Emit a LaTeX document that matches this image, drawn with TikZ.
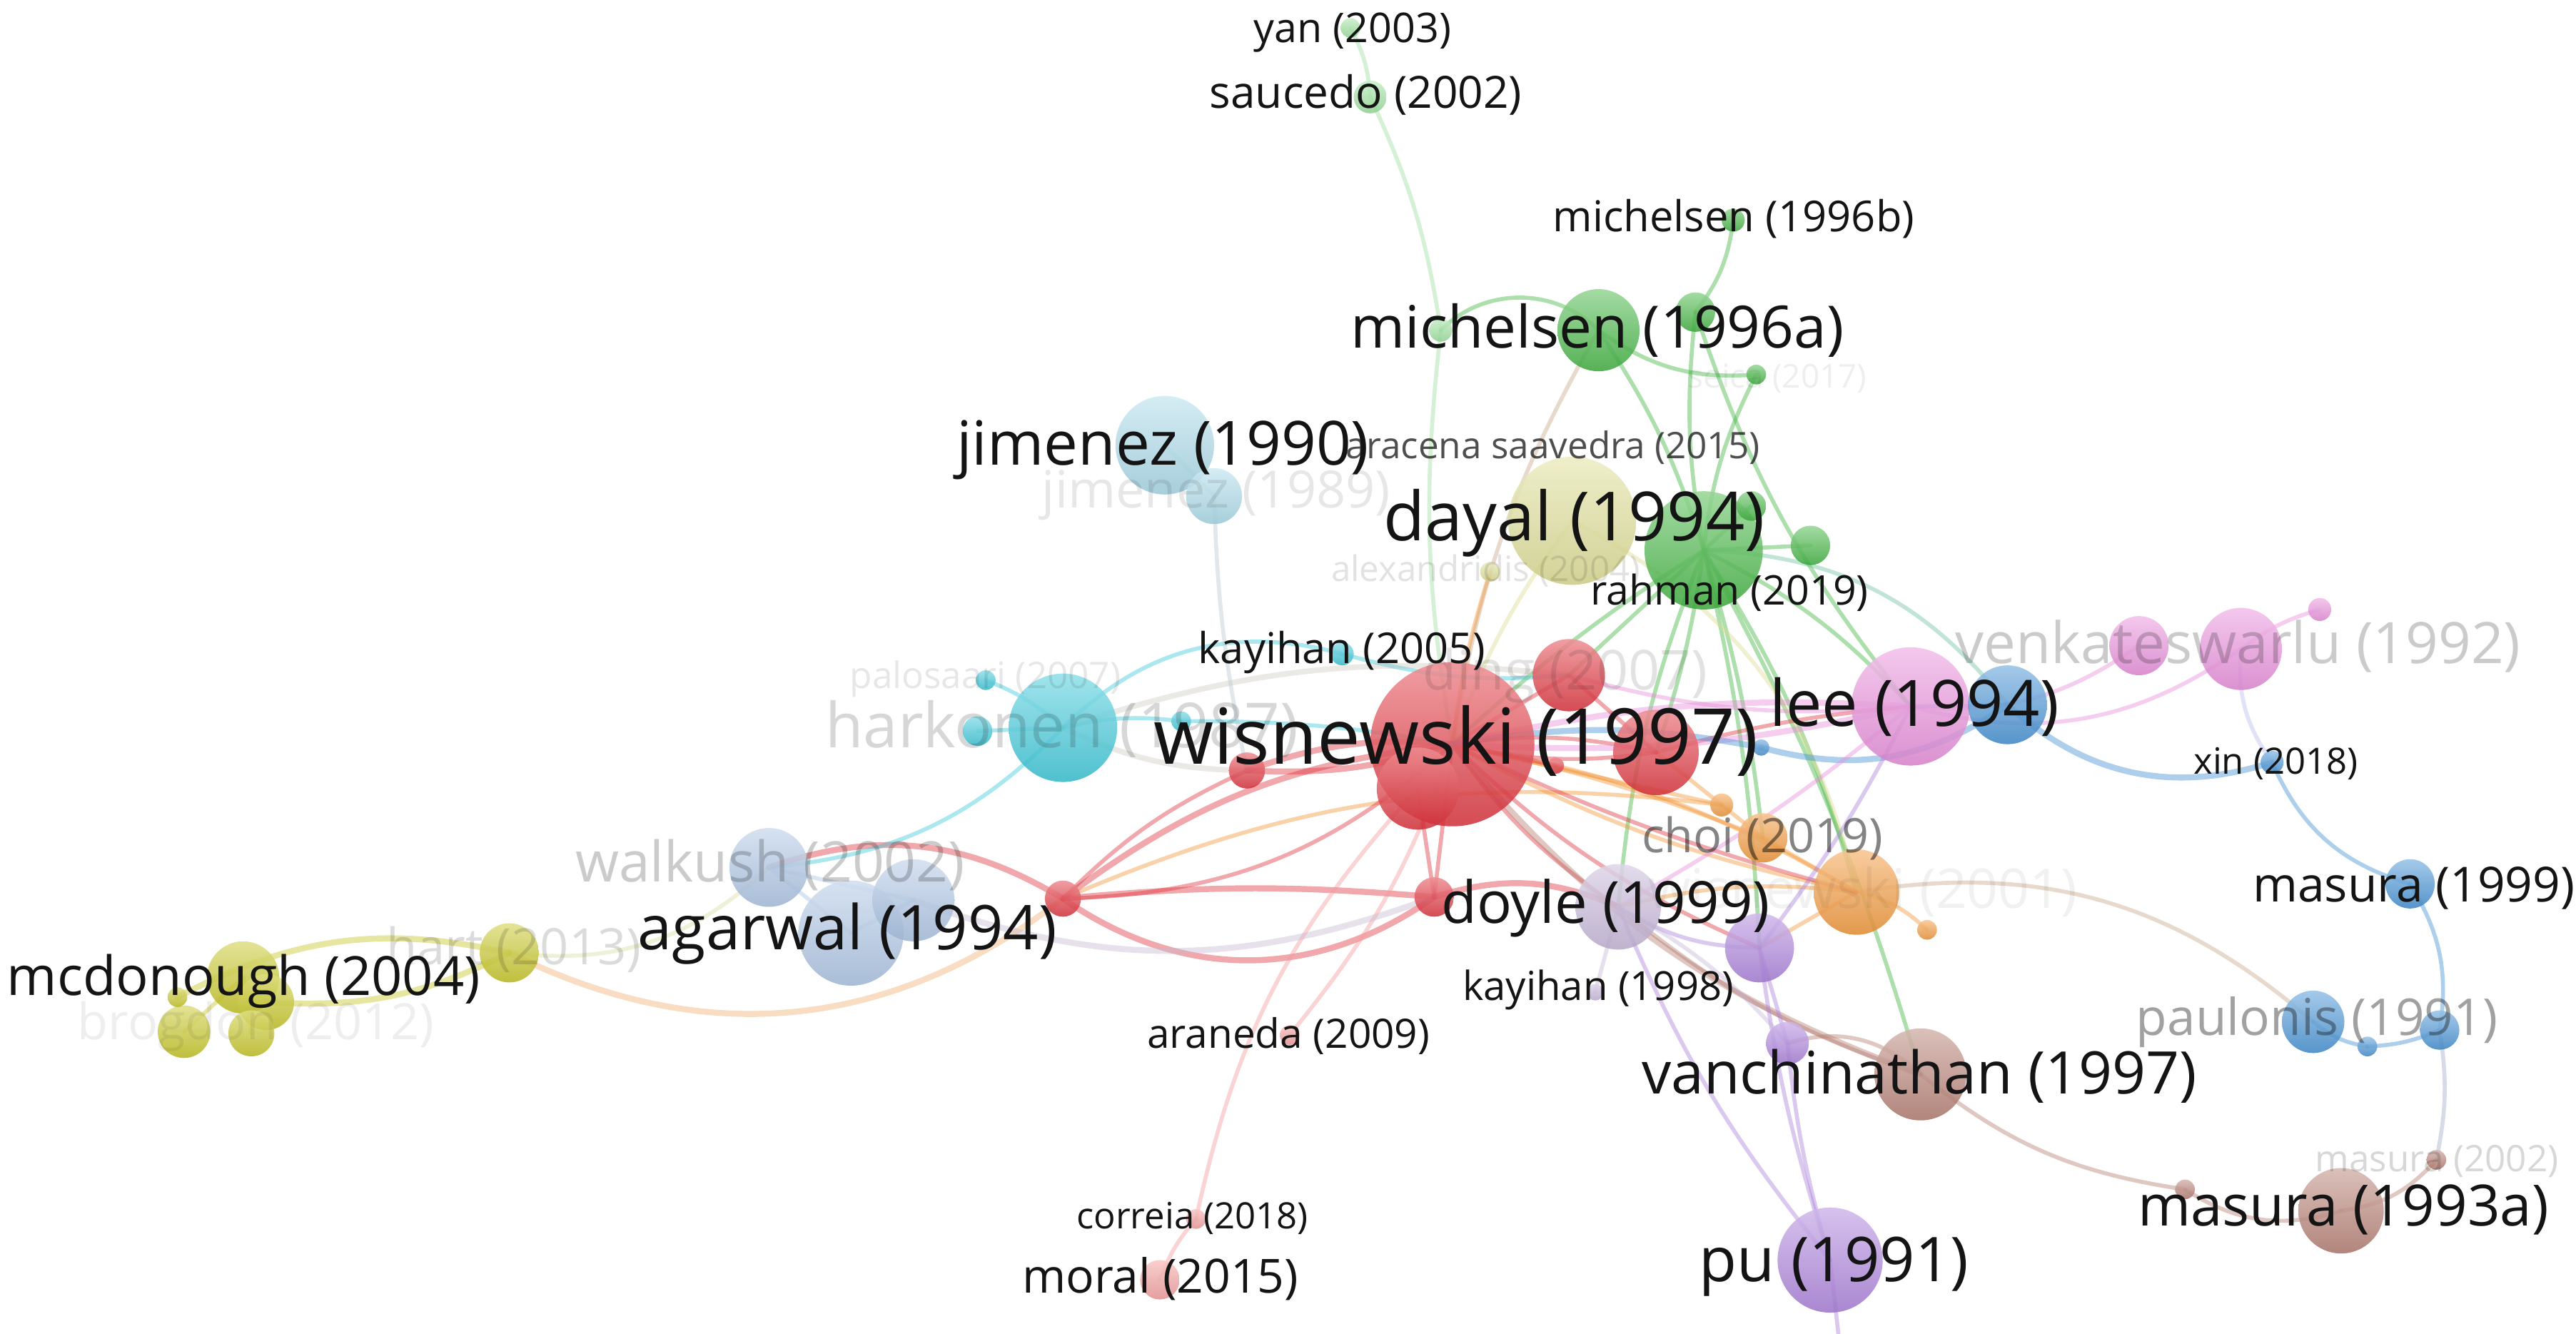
\documentclass[tikz,border=0pt]{standalone}
\usepackage{fontspec}
\setmainfont{Open Sans}
\usepackage{graphicx}
\newlength\pxu
\setlength\pxu{0.23017mm}
\pgfdeclarelayer{bg}
\pgfsetlayers{bg,main}
\definecolor{cred}{HTML}{E0303A}
\definecolor{cpl}{HTML}{F49A9A}
\definecolor{corange}{HTML}{F29433}
\definecolor{cpeach}{HTML}{F2B070}
\definecolor{ctan}{HTML}{C8A888}
\definecolor{cpurple}{HTML}{A97DDB}
\definecolor{clav}{HTML}{C4B4D8}
\definecolor{clav2}{HTML}{B8B8F0}
\definecolor{cbrown}{HTML}{B37A6E}
\definecolor{cblue}{HTML}{3F8ED3}
\definecolor{cbrownblue}{HTML}{A0A8C8}
\definecolor{cpink}{HTML}{E88ADA}
\definecolor{cgreen}{HTML}{3DB33D}
\definecolor{cgl}{HTML}{9BE09B}
\definecolor{cteal}{HTML}{6CC0A0}
\definecolor{ckhaki}{HTML}{DCDC90}
\definecolor{ccyan}{HTML}{35C6D8}
\definecolor{clblue}{HTML}{A6D8E8}
\definecolor{csteel}{HTML}{A9C2E3}
\definecolor{colive}{HTML}{C4C41E}
\definecolor{cyg}{HTML}{D8E0A0}
\definecolor{cgrey}{HTML}{B8B0A8}
\definecolor{cgreyblue}{HTML}{B8C8D0}
\definecolor{clilac}{HTML}{C8B8D0}
\definecolor{cdark}{HTML}{141414}
\tikzset{
  bubble/.style={circle, inner sep=0pt, draw=none, fill opacity=0.85,
    top color=#1!55!white, bottom color=#1!92!black},
  lbl/.style={anchor=base west, inner sep=0pt, text=cdark},
  ed/.style={draw=#1, draw opacity=0.42, line width=1.6pt, line cap=round},
  edk/.style={draw=#1, draw opacity=0.42, line width=2.4pt, line cap=round},
  edf/.style={draw=#1, draw opacity=0.28, line width=2.2pt, line cap=round},
}
\newcommand\bub[5]{\node[bubble=#5, minimum size={2*#4*0.23017mm}] (#1) at (#2,-#3) {};}
\newcommand\lab[6]{\node[lbl, text opacity=#5] (#1) at (#2,-#3) {\resizebox{#4\pxu}{!}{#6}};}
\begin{document}
\begin{tikzpicture}[x=0.23017mm, y=0.23017mm]
\useasboundingbox (0,-812) rectangle (1568,0);
% ---------- bubbles ----------
% olive
\bub{mc1}{148}{595}{22}{colive}
\bub{mc2}{162}{610}{17}{colive}
\bub{mc3}{153}{629}{14}{colive}
\bub{mc4}{112}{628}{16}{colive}
\bub{mc5}{108}{607}{6}{colive}
\bub{hart}{310}{580}{18}{colive}
% steel
\bub{walk}{468}{528}{24}{csteel}
\bub{agar}{518}{568}{32}{csteel}
\bub{s3}{556}{548}{25}{csteel}
% cyan
\bub{hark}{647}{443}{33}{ccyan}
\bub{c2}{600}{414}{6}{ccyan}
\bub{c3}{595}{445}{9}{ccyan}
\bub{kay05}{817}{398}{7}{ccyan}
\bub{c5}{719}{439}{6}{ccyan}
% light blue
\bub{jim90}{709}{271}{30}{clblue}
\bub{jim89}{739}{302}{17}{clblue}
% green
\bub{yan}{822}{17}{6}{cgl}
\bub{sauc}{834}{59}{10}{cgl}
\bub{g9}{877}{201}{7}{cgl}
\bub{michb}{1055}{134}{7}{cgreen}
\bub{mich}{973}{201}{25}{cgreen}
\bub{g4}{1032}{190}{12}{cgreen}
\bub{seica}{1069}{228}{6}{cgreen}
\bub{g2}{1037}{335}{36}{cgreen}
\bub{g10}{1066}{308}{9}{cgreen}
\bub{g3}{1102}{332}{12}{cgreen}
% khaki
\bub{dayal}{957}{317}{39}{ckhaki}
\bub{alex}{907}{348}{6}{ckhaki}
% pink
\bub{lee}{1163}{430}{36}{cpink}
\bub{k2}{1302}{393}{18}{cpink}
\bub{venk}{1364}{395}{25}{cpink}
\bub{k4}{1412}{371}{7}{cpink}
% blue
\bub{b1}{1222}{429}{24}{cblue}
\bub{b2}{1072}{455}{5}{cblue}
\bub{xin}{1383}{464}{7}{cblue}
\bub{mas99}{1467}{538}{15}{cblue}
\bub{paul}{1408}{622}{19}{cblue}
\bub{b6}{1485}{627}{12}{cblue}
\bub{b7}{1441}{637}{6}{cblue}
% brown
\bub{vanch}{1169}{654}{28}{cbrown}
\bub{mas93}{1425}{737}{26}{cbrown}
\bub{mas02}{1483}{706}{6}{cbrown}
\bub{b4}{1330}{724}{6}{cbrown}
% purple
\bub{doyle}{985}{552}{26}{clav}
\bub{kay98}{971}{604}{5}{clav}
\bub{p2}{1071}{577}{21}{cpurple}
\bub{p3}{1088}{635}{13}{cpurple}
\bub{pu}{1114}{767}{32}{cpurple}
% orange
\bub{o1}{1130}{543}{26}{corange}
\bub{choi}{1073}{510}{15}{corange}
\bub{o3}{1048}{490}{7}{corange}
\bub{o4}{1173}{566}{6}{corange}
% red
\bub{aran}{785}{630}{6}{cpl}
\bub{corr}{728}{742}{6}{cpl}
\bub{moral}{706}{779}{12}{cpl}
\bub{r5}{759}{469}{11}{cred}
\bub{r6}{647}{547}{11}{cred}
\bub{r7}{873}{546}{12}{cred}
\bub{ding}{955}{411}{22}{cred}
\bub{r3}{1008}{458}{26}{cred}
\bub{W}{884}{453}{50}{cred}
\bub{W2}{863}{480}{25}{cred}
\bub{r4}{947}{466}{5}{cred}
\coordinate (pubot) at (1119,-812);
% ---------- edges ----------
\begin{pgfonlayer}{bg}
\fill[white] (0,-812) rectangle (1568,0);
% green
\draw[ed=cgl] (yan.center) to[bend left=12] (sauc.center);
\draw[ed=cgl] (sauc.center) to[bend left=8] (g9.center);
\draw[ed=cgl] (g9.center) to[bend right=8] (W.center);
\draw[ed=cgreen] (mich.center) to[bend right=45] (g9.center);
\draw[ed=cgreen] (michb.center) to[bend left=15] (g4.center);
\draw[ed=cgreen] (g4.center) to[bend right=8] (g2.center);
\draw[ed=cgreen] (mich.center) to[bend left=8] (g2.center);
\draw[ed=cgreen] (mich.center) to[bend right=20] (seica.center);
\draw[ed=cgreen] (seica.center) to[bend right=10] (g2.center);
\draw[ed=cgreen] (g4.center) to[bend right=10] (lee.center);
\draw[ed=cgreen] (g2.center) to[bend right=5] (W.center);
\draw[ed=cgreen] (g2.center) to (ding.center);
\draw[ed=cgreen] (g2.center) to[bend left=5] (r3.center);
\draw[ed=cgreen] (g2.center) to[bend left=10] (lee.center);
\draw[ed=cgreen] (g2.center) to[bend left=5] (choi.center);
\draw[ed=cgreen] (g2.center) to[bend left=8] (o1.center);
\draw[ed=cgreen] (g2.center) to[bend right=8] (doyle.center);
\draw[ed=cgreen] (g2.center) to[bend left=5] (p2.center);
\draw[ed=cgreen] (g2.center) to[bend left=6] (vanch.center);
\draw[ed=cteal] (g2.center) to[bend left=25] (b1.center);
\draw[ed=cgreen] (g2.center) to (g3.center);
\draw[ed=cgreen] (g2.center) to (g10.center);
\draw[ed=ctan] (mich.center) to[bend right=10] (W.center);
% khaki
\draw[ed=ckhaki] (dayal.center) to[bend right=8] (W.center);
\draw[ed=ckhaki] (dayal.center) to[bend left=25] (o1.center);
\draw[ed=corange] (alex.center) to[bend right=5] (W.center);
% orange
\draw[ed=corange] (o1.center) to[bend right=10] (W.center);
\draw[ed=corange] (o1.center) to[bend left=8] (W.center);
\draw[ed=corange] (choi.center) to[bend right=5] (W.center);
\draw[ed=corange] (o3.center) to (W.center);
\draw[ed=corange] (o1.center) to (choi.center);
\draw[ed=corange] (o1.center) to[bend left=15] (o4.center);
\draw[ed=corange] (choi.center) to (o3.center);
\draw[ed=corange] (o3.center) to (r3.center);
\draw[ed=ctan] (o1.center) to[bend left=25] (paul.center);
\draw[ed=corange] (o1.center) to[bend right=10] (doyle.center);
\draw[ed=corange] (o1.center) to (p2.center);
\draw[ed=corange] (r6.center) to[bend left=15] (o3.center);
\draw[edk=cpeach] (hart.center) to[bend right=32] (r6.center);
% red
\draw[edk=cred] (W.center) to[bend left=10] (r5.center);
\draw[edk=cred] (W.center) to[bend right=12] (r5.center);
\draw[ed=cred] (r5.center) to[bend right=10] (r6.center);
\draw[edk=cred] (W.center) to[bend right=15] (r6.center);
\draw[ed=cred] (W.center) to[bend left=20] (r6.center);
\draw[edk=cred] (r6.center) to[bend right=35] (r7.center);
\draw[edk=cred] (r6.center) to[bend left=5] (r7.center);
\draw[ed=cred] (W.center) to (r7.center);
\draw[ed=cred] (W.center) to (ding.center);
\draw[ed=cred] (W.center) to[bend left=10] (r3.center);
\draw[ed=cred] (W.center) to[bend right=10] (r3.center);
\draw[ed=cred] (W.center) to (r4.center);
\draw[ed=cpl] (W.center) to[bend left=10] (aran.center);
\draw[ed=cpl] (W2.center) to[bend right=15] (corr.center);
\draw[ed=cpl] (corr.center) to[bend right=10] (moral.center);
\draw[edk=cred] (r6.center) to[bend right=25] (walk.center);
\draw[edk=clilac] (s3.center) to[bend right=20] (r7.center);
\draw[edk=cred] (r7.center) to[bend left=20] (doyle.center);
\draw[ed=cred] (W.center) to[bend right=10] (doyle.center);
\draw[ed=cred] (W.center) to[bend right=5] (o1.center);
\draw[ed=cred] (r3.center) to[bend left=5] (lee.center);
\draw[edk=cpink] (W.center) to[bend left=8] (lee.center);
\draw[edk=cpink] (W.center) to[bend right=8] (lee.center);
\draw[ed=cpink] (ding.center) to[bend right=10] (lee.center);
\draw[ed=cred] (W.center) to[bend right=10] (p2.center);
\draw[edk=cbrown] (W.center) to[bend right=15] (vanch.center);
\draw[ed=cred] (ding.center) to (r3.center);
\draw[ed=cred] (W2.center) to (r7.center);
% blue
\draw[edk=cblue] (W.center) to[bend left=10] (b2.center);
\draw[edk=cblue] (b2.center) to[bend right=25] (b1.center);
\draw[edk=cblue] (b1.center) to[bend right=30] (xin.center);
\draw[ed=clav2] (venk.center) to[bend right=20] (xin.center);
\draw[ed=cblue] (xin.center) to[bend right=25] (mas99.center);
\draw[ed=cblue] (mas99.center) to[bend left=20] (b6.center);
\draw[ed=cblue] (paul.center) to[bend right=15] (b7.center);
\draw[ed=cblue] (b7.center) to[bend right=10] (b6.center);
\draw[ed=cblue] (b1.center) to (lee.center);
\draw[ed=cbrownblue] (b6.center) to[bend left=10] (mas02.center);
\draw[ed=cbrown] (mas02.center) to[bend left=20] (mas93.center);
% brown
\draw[ed=cbrown] (vanch.center) to[bend right=15] (b4.center);
\draw[ed=cbrown] (b4.center) to[bend right=25] (mas93.center);
\draw[ed=cbrown] (p3.center) to[bend left=30] (vanch.center);
\draw[ed=cbrown] (doyle.center) to[bend right=10] (vanch.center);
% purple
\draw[ed=cpurple] (p2.center) to[bend right=5] (pu.center);
\draw[ed=cpurple] (p3.center) to[bend right=5] (pu.center);
\draw[ed=cpurple] (doyle.center) to[bend right=8] (pu.center);
\draw[ed=cpurple] (p2.center) to (p3.center);
\draw[ed=cpurple] (doyle.center) to[bend right=15] (p2.center);
\draw[ed=cpurple] (lee.center) to[bend left=5] (p2.center);
\draw[ed=cpurple] (pu.center) to (pubot);
\draw[ed=clav] (kay98.center) to (doyle.center);
\draw[ed=clav] (doyle.center) to[bend left=10] (p3.center);
% pink
\draw[ed=cpink] (lee.center) to[bend right=20] (k2.center);
\draw[ed=cpink] (lee.center) to[bend right=25] (venk.center);
\draw[ed=cpink] (venk.center) to[bend left=10] (k4.center);
\draw[ed=cpink] (lee.center) to[bend left=5] (doyle.center);
% cyan
\draw[ed=ccyan] (hark.center) to[bend right=10] (c2.center);
\draw[ed=ccyan] (hark.center) to (c3.center);
\draw[ed=ccyan] (hark.center) to[bend left=10] (c5.center);
\draw[ed=ccyan] (hark.center) to[bend left=30] (kay05.center);
\draw[ed=ccyan] (kay05.center) to[bend right=10] (ding.center);
\draw[ed=ccyan] (hark.center) to[bend left=20] (walk.center);
\draw[edf=cgrey] (hark.center) to[bend left=12] (ding.center);
\draw[edf=cgrey] (hark.center) to[bend right=12] (r5.center);
\draw[ed=ccyan] (c5.center) to[bend left=5] (W.center);
% light blue
\draw[ed=clblue] (jim89.center) to (jim90.center);
\draw[ed=cgreyblue] (jim89.center) to[bend right=5] (r5.center);
% steel
\draw[ed=csteel] (walk.center) to (agar.center);
\draw[ed=csteel] (walk.center) to (s3.center);
\draw[ed=csteel] (s3.center) to (agar.center);
\draw[ed=cyg] (hart.center) to[bend right=25] (walk.center);
% olive
\draw[edk=colive] (mc5.center) to[bend left=20] (hart.center);
\draw[edk=colive] (mc2.center) to[bend right=15] (hart.center);
\draw[ed=colive] (mc1.center) to (mc3.center);
\draw[ed=colive] (mc4.center) to (mc1.center);
\end{pgfonlayer}
% ---------- labels ----------
\lab{Lyan}{763}{26}{120}{1}{yan (2003)}
\lab{Lsauc}{736}{66}{190}{1}{saucedo (2002)}
\lab{Lmichb}{945}{141}{220}{1}{michelsen (1996b)}
\lab{Lmich}{822}{212}{300}{1}{michelsen (1996a)}
\lab{Lseica}{1027}{236}{109}{0.07}{seica (2017)}
\lab{Ljim90}{582}{283}{251}{1}{jimenez (1990)}
\lab{Laracena}{819}{279}{252}{0.75}{aracena saavedra (2015)}
\lab{Ljim89}{634}{309}{212}{0.1}{jimenez (1989)}
\lab{Ldayal}{842}{329}{232}{1}{dayal (1994)}
\lab{Lalex}{810}{354}{188}{0.12}{alexandridis (2004)}
\lab{Lrahman}{968}{368}{169}{1}{rahman (2019)}
\lab{Lkay05}{729}{404}{175}{1}{kayihan (2005)}
\lab{Lding}{866}{420}{173}{0.12}{ding (2007)}
\lab{Lpalo}{517}{419}{165}{0.1}{palosaari (2007)}
\lab{Lhark}{502}{455}{288}{0.17}{harkonen (1987)}
\lab{LW}{702}{465}{368}{1}{wisnewski (1997)}
\lab{Llee}{1077}{442}{176}{1}{lee (1994)}
\lab{Lvenk}{1190}{404}{344}{0.22}{venkateswarlu (1992)}
\lab{Lxin}{1335}{471}{100}{1}{xin (2018)}
\lab{Lwalk}{350}{537}{237}{0.22}{walkush (2002)}
\lab{Lchoi}{999}{519}{147}{0.52}{choi (2019)}
\lab{Lwis01}{1003}{553}{261}{0.06}{wisnewski (2001)}
\lab{Lmas99}{1371}{549}{196}{1}{masura (1999)}
\lab{Ldoyle}{877}{562}{200}{1}{doyle (1999)}
\lab{Lagar}{388}{578}{255}{1}{agarwal (1994)}
\lab{Lhart}{235}{587}{155}{0.15}{hart (2013)}
\lab{Lmcd}{4}{606}{288}{1}{mcdonough (2004)}
\lab{Lkay98}{890}{609}{165}{1}{kayihan (1998)}
\lab{Lpaul}{1300}{630}{220}{0.4}{paulonis (1991)}
\lab{Lbrog}{47}{633}{217}{0.07}{brogdon (2012)}
\lab{Laran}{698}{638}{172}{1}{araneda (2009)}
\lab{Lvanch}{999}{666}{338}{1}{vanchinathan (1997)}
\lab{Lmas02}{1409}{713}{148}{0.17}{masura (2002)}
\lab{Lmas93}{1301}{746}{250}{1}{masura (1993a)}
\lab{Lcorr}{655}{748}{141}{1}{correia (2018)}
\lab{Lpu}{1034}{780}{164}{1}{pu (1991)}
\lab{Lmoral}{622}{787}{168}{1}{moral (2015)}
\end{tikzpicture}
\end{document}
